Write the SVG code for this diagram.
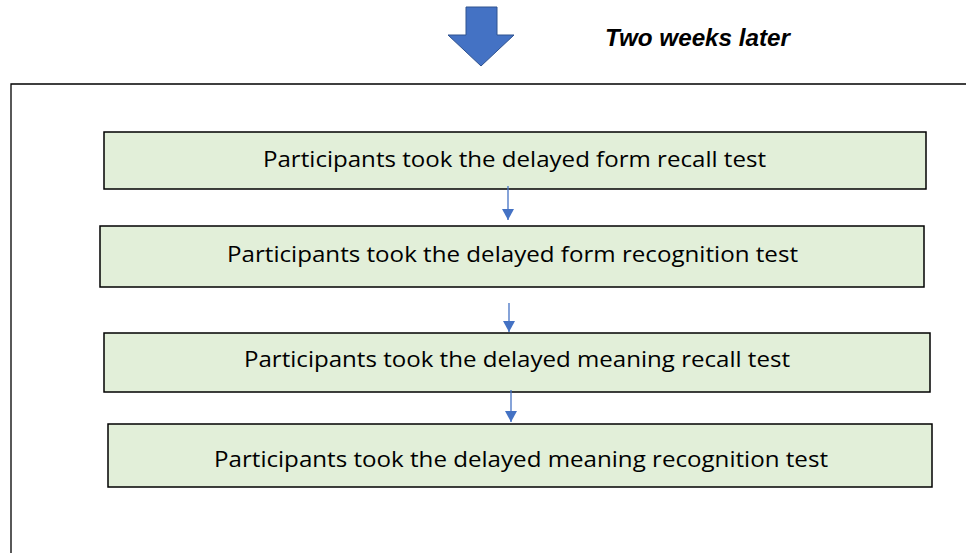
<svg xmlns="http://www.w3.org/2000/svg" width="966" height="553" viewBox="0 0 966 553">
<defs>
<style>
.box{fill:#E2EFD9;stroke:#000;stroke-width:1.5}
.lbl{font-family:"Open Sans","Liberation Sans",Arial,sans-serif;font-size:22px;fill:#000}
.con{stroke:#4472C4;stroke-width:1.3;fill:none}
</style>
<marker id="ah" markerWidth="12" markerHeight="12" refX="11" refY="6" orient="auto" markerUnits="userSpaceOnUse">
<path d="M0,0 L11,6 L0,12 Z" fill="#4472C4"/>
</marker>
</defs>
<rect width="966" height="553" fill="#fff"/>
<g id="frame"><path d="M11,553 L11,84 L966,84" fill="none" stroke="#000" stroke-width="1.3"/></g>
<g id="bigArrow"><path d="M466,7 L497,7 L497,35 L514,35 L481,66 L448,35 L466,35 Z" fill="#4472C4" stroke="#2F528F" stroke-width="1"/></g>
<g id="note"><text x="605" y="46" font-family="Liberation Sans,Arial,sans-serif" font-size="23" font-weight="bold" font-style="italic" textLength="185" lengthAdjust="spacingAndGlyphs">Two weeks later</text></g>
<g id="n1"><rect class="box" x="104" y="132" width="822" height="57"/><text class="lbl" x="263" y="167" textLength="503" lengthAdjust="spacingAndGlyphs">Participants took the delayed form recall test</text></g>
<g id="n2"><rect class="box" x="100" y="226" width="824" height="61"/><text class="lbl" x="227" y="262" textLength="571" lengthAdjust="spacingAndGlyphs">Participants took the delayed form recognition test</text></g>
<g id="n3"><rect class="box" x="104" y="333" width="826" height="59"/><text class="lbl" x="244" y="367" textLength="546" lengthAdjust="spacingAndGlyphs">Participants took the delayed meaning recall test</text></g>
<g id="n4"><rect class="box" x="108" y="424" width="824" height="63"/><text class="lbl" x="214" y="467" textLength="614" lengthAdjust="spacingAndGlyphs">Participants took the delayed meaning recognition test</text></g>
<g id="connectors">
<line class="con" x1="508" y1="186" x2="508" y2="220" marker-end="url(#ah)"/>
<line class="con" x1="509" y1="303" x2="509" y2="332" marker-end="url(#ah)"/>
<line class="con" x1="511" y1="390" x2="511" y2="422" marker-end="url(#ah)"/>
</g>
</svg>
